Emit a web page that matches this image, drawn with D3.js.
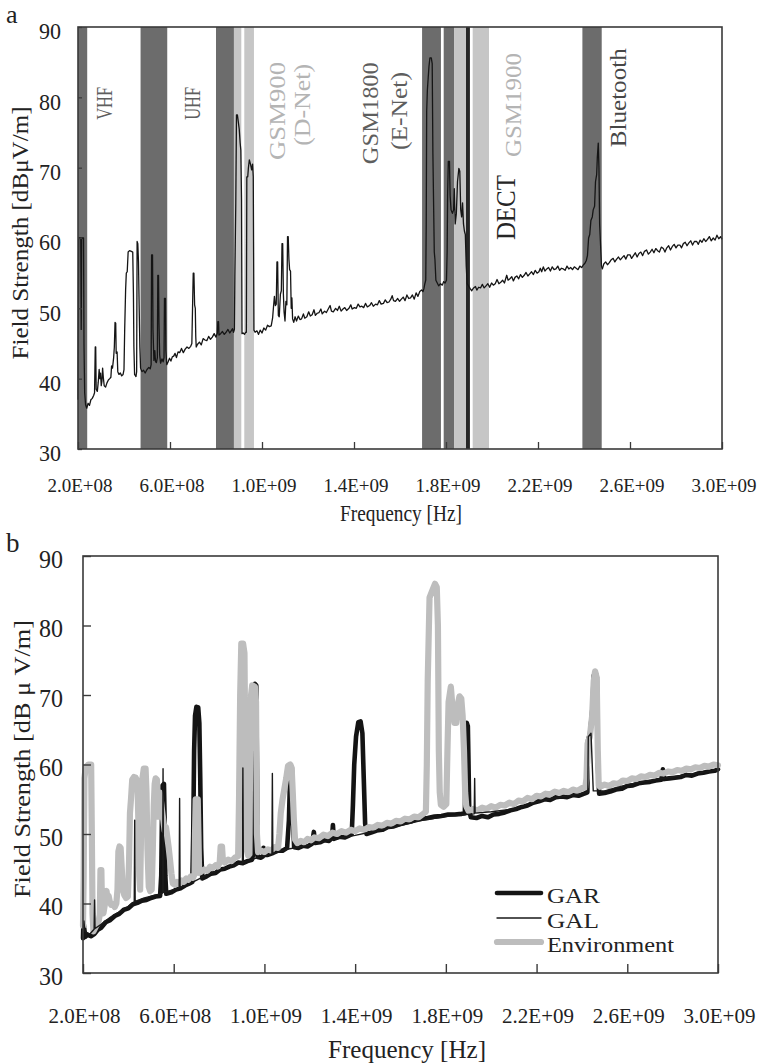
<!DOCTYPE html>
<html>
<head>
<meta charset="utf-8">
<script src="https://cdn.jsdelivr.net/npm/d3@7"></script>
<style>
  body { margin: 0; background: #fff; }
  svg text { font-family: "Liberation Serif", "Times New Roman", serif; }
</style>
</head>
<body>
<svg id="chart" width="762" height="1064"></svg>
<script>
// ---- axis ticks (frequency in MHz, field strength in dBµV/m) ----
const freqTicks = [200, 600, 1000, 1400, 1800, 2200, 2600, 3000];
const freqTickLabels = ["2.0E+08", "6.0E+08", "1.0E+09", "1.4E+09", "1.8E+09", "2.2E+09", "2.6E+09", "3.0E+09"];
const fieldTicks = [30, 40, 50, 60, 70, 80, 90];

// ---- allocated service bands (MHz) shaded in panel a ----
const bandStart = [200, 472, 800, 878, 923, 1696, 1790, 1835, 1887, 1916, 2393];
const bandEnd   = [240, 588, 878, 910, 965, 1778, 1835, 1887, 1904, 1987, 2477];
const bandTone  = ["dark", "dark", "dark", "light", "light", "dark", "dark", "light", "black", "light", "dark"];

// ---- band names ----
const bandLabels = ["VHF", "UHF", "GSM900", "(D-Net)", "GSM1800", "(E-Net)", "GSM1900", "DECT", "Bluetooth"];
const bandLabelTone = ["mid", "mid", "pale", "pale", "mid", "mid", "pale", "ink", "deep"];

// ---- panel a: measured environment spectrum [MHz, dBµV/m] ----
const spectrumA = [
  [200,37],[201,46],[203,60],[212,60],[214,47],[216,60],[224,60],[226,45],[229,38],[233,36.3],[238,35.8],[244,36.5],
  [250,36.2],[256,37],[262,37.2],[268,37.6],[272,38],[275,44.5],[277,44.5],[279,38.5],[284,38.2],[288,39.5],[292,41.3],
  [295,40],[298,40.8],[301,39],[304,39.6],[307,41.5],[310,40.2],[314,39],[320,38.8],[326,39.4],[332,39.8],[338,40],
  [343,40.2],[346,41.8],[350,41.5],[355,43],[358,44.5],[361,48],[364,47.9],[366,43.6],[370,43.8],[373,41],[378,40.6],
  [384,40.8],[390,40.4],[396,40.6],[400,41.3],[403,47],[407,52.6],[410,55],[414,55.2],[418,58],[424,58.2],[432,58.1],
  [438,58],[441,52],[443,44.5],[446,40.6],[452,40.3],[455,41],[457,59.5],[460,59.2],[463,56.6],[466,50],[469,44.5],
  [472,41.5],[478,41],[485,41.2],[492,40.8],[500,41.3],[508,41.6],[514,41.4],[518,42],[520,57.6],[524,57.6],[526,47],
  [530,42.6],[534,44],[537,42.4],[541,42.3],[545,43],[547,54.7],[550,54.7],[552,48],[555,43.4],[559,42.2],[565,42.8],
  [570,42.4],[574,43],[576,51.4],[580,51.4],[582,44],[586,42],[592,42.4],[598,42.9],[604,42.5],[610,43.1],[616,43.2],
  [622,43.6],[628,43.0],[635,43.8],[642,43.7],[650,44.3],[658,43.7],[666,44.2],[674,44.5],[682,44.3],[690,44.6],
  [695,45],[698,50],[701,55],[704,55],[707,50.5],[710,50],[712,46],[714,44.5],[720,44.9],[728,45.2],[736,44.8],
  [744,45.7],[752,45.5],[760,45.4],[768,46.0],[776,45.6],[784,45.9],[792,46.4],[800,45.9],[806,46.5],[808,48.1],
  [811,48.1],[813,46.2],[820,46.4],[828,46.7],[836,46.3],[844,46.6],[852,47.0],[860,46.5],[866,46.8],[872,47.1],
  [876,46.6],[880,47],[882,54.5],[886,64.9],[889,77.5],[893,77.5],[897,76.5],[901,75.5],[905,73.5],[908,72.5],
  [911,65.4],[913,46.4],[918,46.5],[924,46.3],[929,46.6],[932,46.6],[934,68.7],[938,68.7],[941,70],[945,71.1],
  [950,70.5],[955,69.7],[959,70.5],[962,68.7],[965,46.9],[970,46.6],[978,46.8],[985,46.3],[992,46.9],[1000,46.5],
  [1008,47.2],[1016,46.9],[1024,47.6],[1032,47.4],[1040,47.5],[1046,48.6],[1050,50.2],[1054,51.7],[1058,50.4],
  [1062,50.6],[1065,56.6],[1068,56.6],[1071,49],[1075,48.8],[1080,52],[1084,52.5],[1087,59.2],[1090,59.2],[1093,52],
  [1096,49.5],[1100,48.2],[1104,51],[1108,50.5],[1111,60.2],[1114,60.2],[1117,57],[1120,55.5],[1124,55.3],[1127,50],
  [1130,51.5],[1133,48.5],[1138,48],[1144,48.8],[1150,48.2],[1158,48.9],[1165,48.4],[1172,48.5],[1180,49.2],
  [1186,48.6],[1195,48.8],[1203,49.5],[1210,48.9],[1218,49.1],[1226,49.8],[1232,49.0],[1240,49.3],[1248,49.4],
  [1256,49.9],[1262,49.2],[1272,49.6],[1280,49.4],[1288,49.9],[1296,50.4],[1302,49.6],[1310,49.5],[1320,50.0],
  [1328,49.7],[1336,50.3],[1344,49.6],[1352,49.9],[1360,50.1],[1368,49.7],[1378,50.0],[1386,50.5],[1392,49.9],
  [1402,50.1],[1410,50.0],[1418,50.6],[1426,50.2],[1434,50.3],[1442,50.1],[1450,50.7],[1458,50.2],[1468,50.4],
  [1476,50.8],[1484,50.3],[1494,50.6],[1502,50.5],[1510,51.1],[1518,50.6],[1528,50.7],[1536,51.2],[1544,50.8],
  [1552,50.9],[1560,51.3],[1566,51.8],[1572,51.1],[1580,51.0],[1590,51.4],[1598,51.0],[1606,51.3],[1614,51.6],
  [1622,51.1],[1630,51.9],[1638,51.4],[1646,51.5],[1654,51.9],[1662,51.3],[1670,52.2],[1678,51.7],[1686,52.4],
  [1694,52.6],[1700,52.4],[1704,52.8],[1708,53.5],[1712,54],[1714,62],
  [1716,78],[1719,81],[1722,82.5],[1726,84.4],[1730,85.6],[1736,85.6],[1740,84.8],[1743,72],[1746,65],[1749,58],
  [1752,56.9],[1756,54],[1762,53.6],[1768,53.2],[1776,53.5],[1784,53.3],[1790,53.8],[1796,53.6],[1802,54],[1805,58],
  [1807,66],[1810,70.9],[1815,70.9],[1818,66],[1822,64],[1828,63.5],[1833,64],[1836,67],[1840,62],[1845,63.5],
  [1850,68],[1856,69.9],[1860,69.5],[1864,64],[1868,63],[1872,65],[1876,62],[1880,61],[1884,60.5],[1888,56],
  [1892,53.5],[1898,53.2],[1905,52.8],[1912,52.5],[1920,52.9],[1928,53.1],[1934,52.6],[1942,53.0],[1950,52.9],
  [1958,53.4],[1966,52.9],[1974,53.2],[1982,53.5],[1990,53.0],[1998,53.6],[2006,53.3],[2014,53.5],[2022,54.1],
  [2030,53.5],[2038,53.7],[2046,54.0],[2054,53.6],[2064,54.7],[2070,54.0],[2078,54.2],[2086,54.5],[2093,53.9],
  [2100,54.4],[2108,54.6],[2116,54.2],[2124,54.8],[2132,54.4],[2140,54.7],[2148,55.1],[2156,54.6],[2164,54.9],
  [2172,55.2],[2180,54.8],[2188,55.4],[2196,55.0],[2204,55.2],[2210,55.7],[2216,55.2],[2223,55.9],[2230,55.3],
  [2238,55.6],[2246,55.8],[2254,55.3],[2262,55.9],[2270,55.5],[2278,55.6],[2286,56.0],[2294,55.4],[2302,55.7],
  [2310,55.6],[2318,55.4],[2326,56.0],[2334,55.6],[2342,55.8],[2350,55.5],[2358,55.9],[2366,55.7],[2374,55.5],
  [2382,56.0],[2390,55.8],[2398,56.2],[2404,56.4],
  [2410,56.8],[2415,57.5],[2420,60],[2425,60.5],[2430,62.5],[2436,63],[2440,64],[2446,64.5],[2450,68],[2455,69],
  [2458,71.5],[2462,73.5],[2465,70],[2468,62],[2472,59],[2476,56],[2480,55.6],[2486,56.3],[2494,56.6],[2502,56.2],
  [2510,56.5],[2518,56.9],[2527,57.1],[2534,56.6],[2542,57.0],[2550,57.3],[2558,56.9],[2566,57.2],[2574,57.5],
  [2582,57.0],[2590,57.6],[2600,57.6],[2607,57.1],[2615,57.5],[2623,57.9],[2631,57.3],[2639,57.8],[2647,58.0],
  [2655,57.5],[2663,58.1],[2672,58.3],[2680,57.7],[2688,58.0],[2696,58.4],[2704,57.9],[2712,58.5],[2720,58.2],
  [2728,58.0],[2736,58.7],[2745,58.5],[2752,58.0],[2760,58.6],[2768,58.9],[2776,58.3],[2784,58.8],[2792,59.1],
  [2800,58.6],[2808,59.0],[2817,59.0],[2824,58.6],[2832,59.2],[2840,59.4],[2848,58.9],[2856,59.3],[2864,59.6],
  [2872,59.0],[2880,59.5],[2890,59.5],[2897,59.1],[2905,59.7],[2913,59.4],[2921,59.9],[2929,59.5],[2937,59.8],
  [2945,60.2],[2953,59.6],[2962,60.0],[2970,59.7],[2978,60.4],[2986,59.9],[2994,60.2],[3000,59.8]
];

// ---- panel b: series names ----
const seriesNames = ["GAR", "GAL", "Environment"];

// GAR [MHz, dBµV/m]
const garB = [
  [200,35],[202,37.5],[205,36.5],[210,35.2],[220,35.5],[235,35.3],[250,35.6],[265,36.2],[280,36.5],[300,37.3],
  [320,37.6],[340,38.2],[360,38.5],[380,39.1],[400,39.3],[420,39.9],[440,40.1],[460,40.4],[480,40.5],[500,40.8],
  [520,41],[540,41.1],[545,44],[548,52],[551,57],[557,57.2],[560,52],[563,44],[567,41.4],[590,41.6],[610,42],
  [630,42.2],[650,42.6],[670,42.9],[682,43.1],[686,50],[690,62],[694,67],[700,68.3],[708,68.2],[713,66],[717,58],
  [721,48],[726,43.6],[745,43.9],[765,44.3],[785,44.4],[805,44.9],[825,45],[845,45.3],[865,45.5],[885,45.9],
  [905,45.8],[925,46.1],[945,46.3],[950,47],[953,70],[958,71.6],[964,71.4],[967,60],[970,46.7],[985,46.6],
  [994,46.8],[996,48],[999,47],[1015,47],[1040,47.3],[1060,47.6],[1080,47.6],[1100,48],[1108,52],[1113,58],
  [1117,59.8],[1121,59.5],[1125,53],[1131,48.1],[1150,48],[1170,48.3],[1190,48.2],[1210,48.6],[1218,50.3],
  [1223,48.7],[1245,48.8],[1265,49.1],[1285,49],[1298,49.4],[1302,51.3],[1306,49.3],[1330,49.6],[1355,49.5],
  [1375,49.8],[1385,50],[1390,54],[1396,60],[1404,64],[1414,66.1],[1424,66.2],[1432,64.5],[1438,58],[1444,51.5],
  [1450,50],[1470,50.2],[1495,50.5],[1520,50.6],[1545,51],[1570,51.1],[1595,51.4],[1620,51.6],[1645,51.8],
  [1670,52.1],[1695,52.2],[1720,52.3],[1750,52.5],[1780,52.6],[1810,52.8],[1840,52.8],[1870,52.9],[1884,53],
  [1887,64],[1892,66],[1897,65.5],[1900,60],[1903,53.5],[1910,52.4],[1935,52.3],[1960,52.6],[1985,52.4],
  [2010,52.8],[2035,52.9],[2060,53.1],[2085,53.4],[2110,53.6],[2135,53.9],[2160,54.1],[2185,54.5],[2210,54.7],
  [2235,55],[2260,54.9],[2285,55.3],[2310,55.4],[2335,55.3],[2360,55.6],[2385,55.5],[2410,55.8],[2424,56],
  [2427,63.5],[2436,64.5],[2446,68],[2452,72.8],[2460,73.3],[2466,72.5],[2470,60],[2476,55.8],[2500,55.9],
  [2525,56.1],[2550,56.4],[2575,56.5],[2600,56.9],[2625,57],[2650,57.3],[2675,57.4],[2700,57.5],[2725,57.7],
  [2750,57.8],[2757,59.3],[2762,57.9],[2785,58],[2810,58.1],[2835,58.2],[2860,58.5],[2885,58.4],[2910,58.7],
  [2935,58.8],[2960,59],[2985,59.1],[3000,59.3]
];

// GAL [MHz, dBµV/m]
const galB = [
  [200,35.5],[204,37.5],[208,36],[230,35.6],[249,36.3],[251,40.5],[253,36.4],[280,37],[320,38],[360,38.8],
  [400,39.6],[426,40.2],[428,52],[430,40.3],[470,40.8],[520,41.2],[551,41.5],[553,59.4],[555,41.6],[600,42],
  [624,42.2],[626,55.1],[628,42.3],[680,43],[740,44],[800,44.8],[860,45.5],[903,45.8],[905,59.5],[907,45.9],
  [960,46.5],[1033,47.1],[1035,58.7],[1037,47.2],[1100,47.8],[1200,48.4],[1300,49.2],[1400,49.8],[1500,50.5],
  [1600,51.2],[1700,52],[1800,52.5],[1890,52.8],[1925,52.9],[1927,58],[1929,53],[2000,53.2],[2100,53.6],
  [2200,54.6],[2300,55.3],[2400,55.8],[2426,56],[2428,64],[2440,64.5],[2450,56.2],[2500,56.2],[2600,57.1],
  [2700,57.7],[2800,58.2],[2900,58.7],[3000,59.2]
];

// Environment [MHz, dBµV/m]
const envB = [
  [200,36.8],[203,44],[206,58],[212,59.6],[224,60],[236,60],[239,50],[242,38.5],[246,36],[252,36.4],[260,36.9],
  [268,37.3],[274,38.4],[277,44.8],[281,44.8],[284,39.2],[290,38.6],[296,39.8],[300,41.2],[304,41.8],[308,40.6],
  [313,41.1],[318,40.3],[324,39.8],[332,39.9],[340,39.5],[347,40],[352,42],[356,47.5],[361,48.2],[366,48],[371,45],
  [375,42.2],[382,41.2],[390,40.8],[398,41],[403,46],[407,53],[412,55.2],[417,57.8],[425,58.2],[432,58.1],[440,57.6],
  [444,52],[448,44],[452,42],[456,50],[462,58],[468,59.4],[476,59.4],[480,56],[484,48],[490,42.4],[496,41.8],
  [503,42],[508,48],[512,54],[516,57.2],[520,58],[526,57.8],[530,52.5],[534,54],[538,56],[542,55.2],[548,53.5],
  [554,52],[560,50.5],[566,51],[572,49.5],[578,48],[584,46.2],[590,44.3],[596,42.9],[605,42.7],[615,43.1],[625,42.8],
  [635,43.3],[645,43.1],[655,43.6],[665,43.4],[675,43.9],[685,43.7],[692,44.2],[694,50],[697,55],[706,55],[709,50],
  [712,44.4],[722,44.6],[735,44.9],[748,44.7],[760,45.3],[772,45.1],[785,45.5],[795,45.3],[803,46],[807,48.2],
  [813,48.2],[817,46.1],[825,45.9],[840,46.3],[855,46.1],[870,46.6],[884,46.8],[888,55],[893,70],[898,77.4],
  [906,77.4],[912,76],[916,60],[920,48],[928,46.9],[934,47.1],[937,62],[941,70],[946,71.4],[958,71.2],[963,69],
  [967,50],[972,47.4],[985,47.6],[1000,47.4],[1015,47.8],[1030,47.6],[1045,48.1],[1060,48],[1066,50],[1072,53],
  [1080,55],[1088,56.5],[1096,58],[1104,59.8],[1114,60],[1120,59.5],[1125,56],[1130,52],[1135,49.2],[1145,48.7],
  [1160,49],[1175,48.8],[1190,49.3],[1205,49.1],[1220,49.5],[1240,49.4],[1260,49.9],[1280,49.7],[1300,50.2],
  [1320,50],[1340,50.4],[1360,50.2],[1380,50.6],[1400,50.4],[1420,50.8],[1440,50.6],[1460,51],[1480,50.9],
  [1500,51.3],[1520,51.2],[1540,51.6],[1560,51.5],[1580,51.9],[1600,51.8],[1620,52.2],[1640,52.1],[1660,52.5],
  [1680,52.4],[1700,52.9],[1712,53.2],[1716,60],[1720,72],[1728,84],[1740,85],[1752,86],[1760,85.5],[1765,80],
  [1769,62],[1773,56],[1778,54.2],[1790,53.9],[1802,54.3],[1807,62],[1812,69],[1822,71.2],[1830,68],[1838,66],
  [1846,66],[1852,68.5],[1860,69.8],[1868,69.5],[1874,67],[1880,62],[1885,56],[1890,54],[1900,53.3],[1920,53.6],
  [1940,53.4],[1960,53.8],[1980,53.6],[2000,54],[2020,53.8],[2040,54.2],[2060,54.1],[2080,54.5],[2100,54.3],
  [2120,54.8],[2140,54.7],[2160,55.2],[2180,55],[2200,55.5],[2220,55.4],[2240,55.8],[2260,55.7],[2280,56.1],
  [2300,55.9],[2320,56.2],[2340,56],[2360,56.4],[2380,56.2],[2400,56.6],[2415,56.7],[2420,58],[2425,63],[2435,64],
  [2445,67],[2452,72],[2458,73.4],[2465,72.5],[2470,62],[2474,57],[2480,56.8],[2500,57.1],[2520,56.9],[2540,57.3],
  [2560,57.2],[2580,57.7],[2600,57.6],[2620,58],[2640,57.9],[2660,58.3],[2680,58.2],[2700,58.5],[2720,58.4],
  [2740,58.8],[2760,58.7],[2780,59],[2800,58.9],[2820,59.2],[2840,59.1],[2860,59.4],[2880,59.3],[2900,59.6],
  [2920,59.5],[2940,59.8],[2960,59.7],[2980,60],[3000,59.9]
];

// ---------------------------------------------------------------------------
const svg = d3.select("#chart");
const INK = "#222";
const FRAME = "#3a3a3a";
const bandFill = { dark: "#6c6c6c", light: "#c6c6c6", black: "#262626" };
const labelFill = { mid: "#5e5e5e", pale: "#b4b4b4", ink: "#262626", deep: "#474747" };

// label placement for panel a: [centre MHz, bottom dBµV/m, text length px, font px]
const bandLabelLayout = [
  [317, 76.8, 33, 23], [698, 76.8, 33, 23], [1065, 71.1, 98, 24], [1174, 73.1, 82, 24],
  [1470, 70.5, 102, 24], [1596, 72.5, 78, 24], [2091, 71.5, 104, 24], [2061, 59.7, 65, 27],
  [2548, 72.9, 99, 24]
];

function styleAxisText(sel, size) {
  sel.attr("fill", INK).attr("font-size", size)
     .attr("font-family", '"Liberation Serif", "Times New Roman", serif');
}

// ============================ panel a ============================
const xA = d3.scaleLinear().domain([200, 3000]).range([78, 722]);
const yA = d3.scaleLinear().domain([30, 90]).range([449, 27]);
const gA = svg.append("g");

gA.selectAll("rect.band")
  .data(d3.range(bandStart.length))
  .join("rect")
  .attr("class", "band")
  .attr("x", i => xA(bandStart[i]))
  .attr("width", i => xA(bandEnd[i]) - xA(bandStart[i]))
  .attr("y", yA(90))
  .attr("height", yA(30) - yA(90))
  .attr("fill", i => bandFill[bandTone[i]]);

gA.selectAll("text.bandlabel")
  .data(d3.range(bandLabels.length))
  .join("text")
  .attr("class", "bandlabel")
  .attr("transform", i => `translate(${xA(bandLabelLayout[i][0])},${yA(bandLabelLayout[i][1])}) rotate(-90)`)
  .attr("dominant-baseline", "central")
  .attr("text-anchor", "start")
  .attr("font-size", i => bandLabelLayout[i][3])
  .attr("textLength", i => bandLabelLayout[i][2])
  .attr("lengthAdjust", "spacingAndGlyphs")
  .attr("fill", i => labelFill[bandLabelTone[i]])
  .text(i => bandLabels[i]);

const lineA = d3.line().x(d => xA(d[0])).y(d => yA(d[1]));
gA.append("path")
  .datum(spectrumA)
  .attr("d", lineA)
  .attr("fill", "none")
  .attr("stroke", "#151515")
  .attr("stroke-width", 1.3)
  .attr("stroke-linejoin", "round");

const axBottomA = d3.axisBottom(xA).tickValues(freqTicks)
  .tickFormat((d, i) => freqTickLabels[i]).tickSizeInner(-7).tickSizeOuter(0).tickPadding(0);
const gxA = gA.append("g").attr("transform", `translate(0,${yA(30)})`).call(axBottomA);
gxA.select(".domain").remove();
gxA.selectAll(".tick line").attr("stroke", FRAME).attr("stroke-width", 1.3);
gxA.selectAll(".tick text").attr("y", 43).attr("dy", null).attr("x", 1.5)
  .call(styleAxisText, 19);

const axLeftA = d3.axisLeft(yA).tickValues(fieldTicks).tickSizeInner(-4).tickSizeOuter(0).tickPadding(17);
const gyA = gA.append("g").attr("transform", `translate(${xA(200)},0)`).call(axLeftA);
gyA.select(".domain").remove();
gyA.selectAll(".tick line").attr("stroke", FRAME).attr("stroke-width", 1.3);
gyA.selectAll(".tick text").attr("y", 4)
  .attr("textLength", 22).attr("lengthAdjust", "spacingAndGlyphs")
  .call(styleAxisText, 24);

gA.append("rect")
  .attr("x", xA(200)).attr("y", yA(90))
  .attr("width", xA(3000) - xA(200)).attr("height", yA(30) - yA(90))
  .attr("fill", "none").attr("stroke", FRAME).attr("stroke-width", 1.6);

gA.append("text").attr("x", 401).attr("y", 521).attr("text-anchor", "middle")
  .attr("font-size", 23).attr("textLength", 122).attr("lengthAdjust", "spacingAndGlyphs")
  .attr("fill", INK).text("Frequency [Hz]");
gA.append("text")
  .attr("transform", "translate(20,233) rotate(-90)")
  .attr("text-anchor", "middle").attr("dominant-baseline", "central")
  .attr("font-size", 23).attr("textLength", 253).attr("lengthAdjust", "spacingAndGlyphs")
  .attr("fill", INK).text("Field Strength [dBμV/m]");
gA.append("text").attr("x", 6).attr("y", 23).attr("font-size", 26).attr("fill", INK).text("a");

// ============================ panel b ============================
const xB = d3.scaleLinear().domain([200, 3000]).range([83, 718]);
const yB = d3.scaleLinear().domain([30, 90]).range([973, 556]);
const gB = svg.append("g");

const lineB = d3.line().x(d => xB(d[0])).y(d => yB(d[1]));
const seriesStyle = [
  { data: garB, stroke: "#141414", width: 4.6 },
  { data: envB, stroke: "#bdbdbd", width: 6.2 },
  { data: galB, stroke: "#1a1a1a", width: 1.4 }
];
// draw order: GAR underneath, Environment over it, GAL on top
seriesStyle.forEach(s => {
  gB.append("path").datum(s.data).attr("d", lineB)
    .attr("fill", "none").attr("stroke", s.stroke).attr("stroke-width", s.width)
    .attr("stroke-linejoin", "round").attr("stroke-linecap", "round");
});

const axBottomB = d3.axisBottom(xB).tickValues(freqTicks)
  .tickFormat((d, i) => freqTickLabels[i]).tickSizeInner(-9).tickSizeOuter(0).tickPadding(0);
const gxB = gB.append("g").attr("transform", `translate(0,${yB(30)})`).call(axBottomB);
gxB.select(".domain").remove();
gxB.selectAll(".tick line").attr("stroke", FRAME).attr("stroke-width", 1.4);
gxB.selectAll(".tick text").attr("y", 50).attr("dy", null).attr("x", 1)
  .call(styleAxisText, 21);

const axLeftB = d3.axisLeft(yB).tickValues(fieldTicks).tickSizeInner(-8).tickSizeOuter(0).tickPadding(20);
const gyB = gB.append("g").attr("transform", `translate(${xB(200)},0)`).call(axLeftB);
gyB.select(".domain").remove();
gyB.selectAll(".tick line").attr("stroke", FRAME).attr("stroke-width", 1.4);
gyB.selectAll(".tick text").attr("y", 3)
  .attr("textLength", 24).attr("lengthAdjust", "spacingAndGlyphs")
  .call(styleAxisText, 25);

gB.append("rect")
  .attr("x", xB(200)).attr("y", yB(90))
  .attr("width", xB(3000) - xB(200)).attr("height", yB(30) - yB(90))
  .attr("fill", "none").attr("stroke", FRAME).attr("stroke-width", 1.6);

gB.append("text").attr("x", 407).attr("y", 1058).attr("text-anchor", "middle")
  .attr("font-size", 25).attr("textLength", 158).attr("lengthAdjust", "spacingAndGlyphs")
  .attr("fill", INK).text("Frequency [Hz]");
gB.append("text")
  .attr("transform", "translate(22,759) rotate(-90)")
  .attr("text-anchor", "middle").attr("dominant-baseline", "central")
  .attr("font-size", 24).attr("textLength", 278).attr("lengthAdjust", "spacingAndGlyphs")
  .attr("fill", INK).text("Field Strength [dB μ V/m]");
gB.append("text").attr("x", 6).attr("y", 552).attr("font-size", 27).attr("fill", INK).text("b");

// legend
const legendRows = [893, 918, 942];
const legendWidths = [53, 52, 127];
const legend = gB.append("g");
seriesNames.forEach((name, i) => {
  const s = seriesStyle[i === 0 ? 0 : i === 1 ? 2 : 1];
  legend.append("line")
    .attr("x1", 497).attr("x2", 541).attr("y1", legendRows[i]).attr("y2", legendRows[i])
    .attr("stroke", s.stroke).attr("stroke-width", s.width).attr("stroke-linecap", "round");
  legend.append("text").attr("x", 547).attr("y", legendRows[i] + 10)
    .attr("font-size", 21.5).attr("textLength", legendWidths[i]).attr("lengthAdjust", "spacingAndGlyphs")
    .attr("fill", INK).text(name);
});
</script>
</body>
</html>
